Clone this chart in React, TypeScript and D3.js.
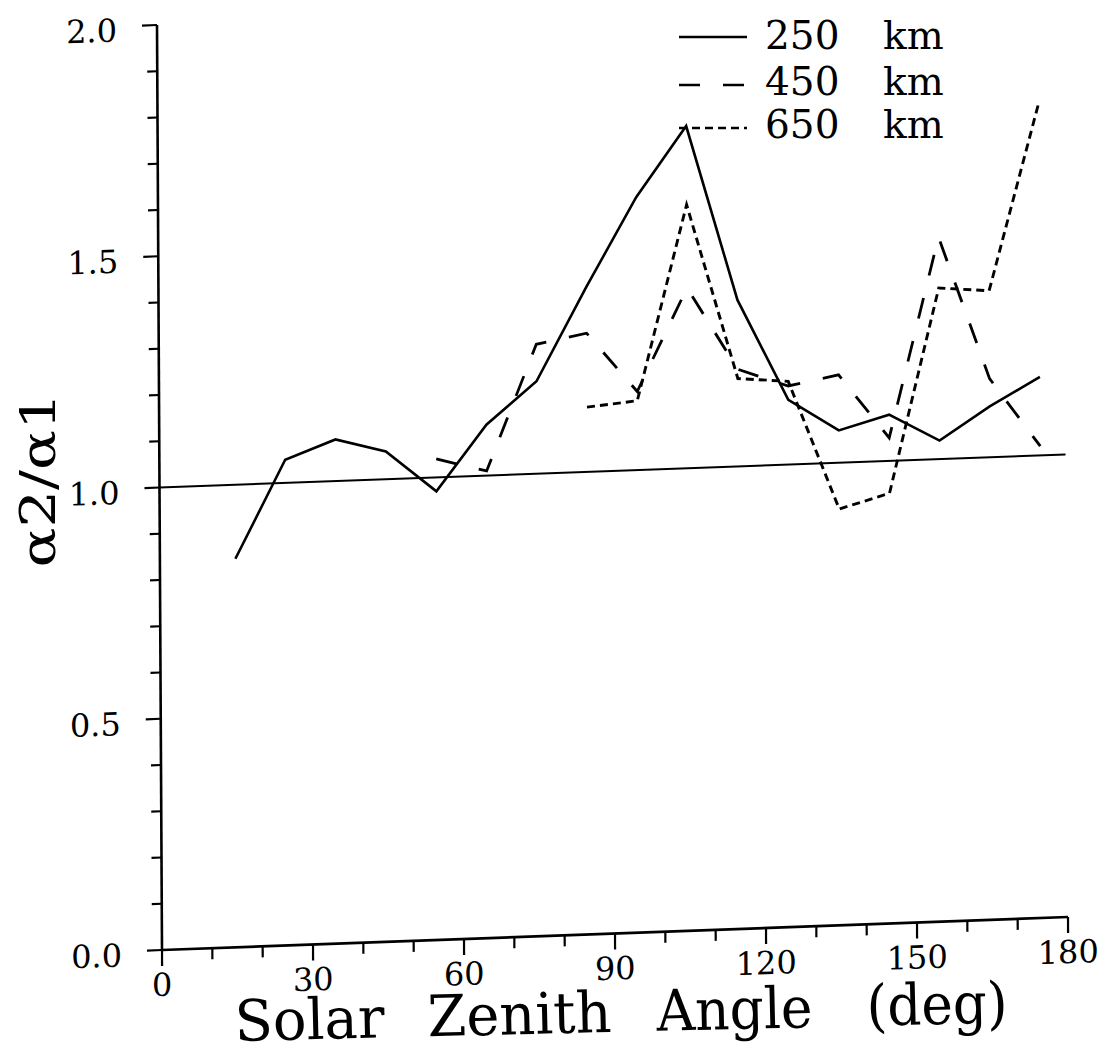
import * as d3 from "d3";

// solar zenith angle bins (deg)
const angles250 = [15, 25, 35, 45, 55, 65, 75, 85, 95, 105, 115, 125, 135, 145, 155, 165, 175];
const ratio250 = [0.84, 1.05, 1.09, 1.06, 0.97, 1.11, 1.2, 1.4, 1.59, 1.74, 1.36, 1.14, 1.07, 1.1, 1.04, 1.11, 1.17];

const angles450 = [55, 65, 75, 85, 95, 105, 115, 125, 135, 145, 155, 165, 175];
const ratio450 = [1.04, 1.01, 1.28, 1.3, 1.17, 1.39, 1.21, 1.17, 1.19, 1.05, 1.48, 1.17, 1.02];

const angles650 = [85, 95, 105, 115, 125, 135, 145, 155, 165, 175];
const ratio650 = [1.14, 1.15, 1.57, 1.19, 1.18, 0.9, 0.93, 1.37, 1.36, 1.76];

const xMajorTicks = [0, 30, 60, 90, 120, 150, 180];
const yMajorTicks = [0, 0.5, 1, 1.5, 2];
const yTickLabels = ["0.0", "0.5", "1.0", "1.5", "2.0"];
const legendLabels = ["250", "450", "650"];
const xTitleWords = ["Solar", "Zenith", "Angle", "(deg)"];

const FONT = "'DejaVu Serif', serif";

export default function App() {
  const width = 1107;
  const height = 1055;
  const W = 906; // plot frame, before the scan skew
  const H = 925;

  const x = d3.scaleLinear().domain([0, 180]).range([0, W]);
  const y = d3.scaleLinear().domain([0, 2]).range([H, 0]);

  const line = d3
    .line<[number, number]>()
    .x((d) => x(d[0]))
    .y((d) => y(d[1]));

  const series = [
    { xs: angles250, ys: ratio250, dash: undefined as string | undefined, sw: 2.6 },
    { xs: angles450, ys: ratio450, dash: "21 23", sw: 2.8 },
    { xs: angles650, ys: ratio650, dash: "8 5", sw: 2.9 },
  ];

  const xMinor = d3.range(0, 181, 10);
  const yMinor = d3.range(0, 21).map((i) => i / 10);

  // legend sits in page coords (not skewed)
  const legendY = [37, 85, 128];
  const legendBase = [49, 95, 138];

  // x title words: start, fitted width
  const titleX = [235, 428, 657, 867];
  const titleW = [150, 184, 156, 141];

  return (
    <svg
      width={width}
      height={height}
      viewBox={`0 0 ${width} ${height}`}
      style={{ position: "absolute", left: 0, top: 0, background: "#fff" }}
    >
      {/* the scanned page is slightly sheared, so the plot frame is too */}
      <g transform="matrix(1,-0.0364,0.0054,1,157,25)">
        {/* axes */}
        <line x1={0} x2={0} y1={0} y2={H} stroke="#000" strokeWidth={2.6} />
        <line x1={0} x2={W} y1={H} y2={H} stroke="#000" strokeWidth={2.6} />

        {/* y ticks */}
        {yMinor.map((v, i) => (
          <line key={`ym-${i}`} x1={i % 5 === 0 ? -15 : -10} x2={0} y1={y(v)} y2={y(v)} stroke="#000" strokeWidth={2.2} />
        ))}
        {yMajorTicks.map((v, i) => (
          <text key={`yl-${i}`} x={-40} y={y(v) + 15} textAnchor="end" fontFamily={FONT} fontSize={32}>
            {yTickLabels[i]}
          </text>
        ))}

        {/* x ticks */}
        {xMinor.map((v, i) => (
          <line key={`xm-${i}`} x1={x(v)} x2={x(v)} y1={H} y2={H + (v % 30 === 0 ? 16 : 11)} stroke="#000" strokeWidth={2.2} />
        ))}
        {xMajorTicks.map((v, i) => (
          <text key={`xl-${i}`} x={x(v)} y={H + 46} textAnchor="middle" fontFamily={FONT} fontSize={32}>
            {v}
          </text>
        ))}

        {/* reference line at ratio 1 */}
        <line x1={0} x2={W} y1={y(1)} y2={y(1)} stroke="#000" strokeWidth={2} />

        {/* data */}
        {series.map((s, i) => (
          <path
            key={`s-${i}`}
            d={line(s.xs.map((a, j) => [a, s.ys[j]] as [number, number])) ?? ""}
            fill="none"
            stroke="#000"
            strokeWidth={s.sw}
            strokeDasharray={s.dash}
            strokeLinejoin="miter"
          />
        ))}
      </g>

      {/* legend */}
      {series.map((s, i) => (
        <g key={`lg-${i}`}>
          <line x1={679} x2={747} y1={legendY[i]} y2={legendY[i]} stroke="#000" strokeWidth={2.4} strokeDasharray={s.dash} />
          <text x={765} y={legendBase[i]} fontFamily={FONT} fontSize={39}>
            {legendLabels[i]}
          </text>
          <text x={883} y={legendBase[i]} fontFamily={FONT} fontSize={39}>
            km
          </text>
        </g>
      ))}

      {/* axis titles */}
      {xTitleWords.map((w, i) => {
        const bx = titleX[i];
        const by = 1041 - 0.024 * (bx - 235);
        return (
          <text
            key={`xt-${i}`}
            x={bx}
            y={by}
            transform={`rotate(-1.37, ${bx}, ${by})`}
            fontFamily={FONT}
            fontSize={57}
            textLength={titleW[i]}
            lengthAdjust="spacingAndGlyphs"
          >
            {w}
          </text>
        );
      })}
      <text
        transform="translate(55,480) rotate(-90)"
        textAnchor="middle"
        fontFamily={FONT}
        fontSize={48}
        textLength={175}
        lengthAdjust="spacingAndGlyphs"
      >
        α2/α1
      </text>
    </svg>
  );
}
